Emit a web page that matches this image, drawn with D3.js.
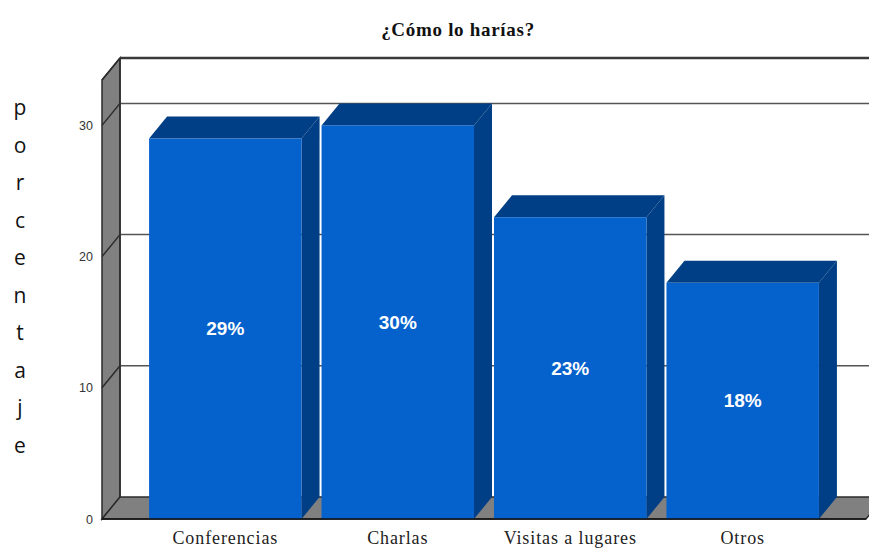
<!DOCTYPE html>
<html>
<head>
<meta charset="utf-8">
<script src="https://cdn.jsdelivr.net/npm/d3@7/dist/d3.min.js"></script>
<style>
  html, body { margin: 0; padding: 0; background: #fff; }
  svg { display: block; }
</style>
</head>
<body>
<script>
// Survey answers: "¿Cómo lo harías?"
const categories = ["Conferencias", "Charlas", "Visitas a lugares", "Otros"];
const percentages = [29, 30, 23, 18];
const yTicks = [0, 10, 20, 30];
const yLabelText = "porcentaje";
const titleText = "¿Cómo lo harías?";

const W = 869, H = 548;
const depthX = 18, depthY = 22;           // 3D offset of the back plane
const frontLeft = 102, frontRight = 866;  // front edge of the floor
const frontBottom = 519;

const svg = d3.select("body").append("svg")
  .attr("width", W).attr("height", H);

const x = d3.scaleBand()
  .domain(categories)
  .range([frontLeft, frontRight])
  .paddingInner(0.116)
  .paddingOuter(0.273);

const y = d3.scaleLinear()
  .domain([0, 33.46])
  .range([frontBottom, frontBottom - 33.46 * 13.12]);

const yTop = y.domain()[1];
const lineCol = "#2b2b2b";
const wallGray = "#808080";

// Back wall
const backLeft = frontLeft + depthX;
svg.append("rect")
  .attr("x", backLeft).attr("y", y(yTop) - depthY)
  .attr("width", W - backLeft).attr("height", y(0) - y(yTop))
  .attr("fill", "#fff");

// Left side wall
svg.append("path")
  .attr("d", d3.line()([
    [frontLeft, y(yTop)], [backLeft, y(yTop) - depthY],
    [backLeft, y(0) - depthY], [frontLeft, y(0)]
  ]) + "Z")
  .attr("fill", wallGray).attr("stroke", lineCol).attr("stroke-width", 1.5);

// Floor
svg.append("path")
  .attr("d", d3.line()([
    [frontLeft, y(0)], [backLeft, y(0) - depthY],
    [frontRight + depthX, y(0) - depthY], [frontRight, y(0)]
  ]) + "Z")
  .attr("fill", wallGray).attr("stroke", lineCol).attr("stroke-width", 1.5);

// Gridlines on back wall and side wall, plus the top edge
const gridVals = yTicks.filter(v => v > 0).concat([yTop]);
const grid = svg.append("g");
gridVals.forEach(v => {
  grid.append("line")
    .attr("x1", backLeft).attr("x2", W)
    .attr("y1", y(v) - depthY).attr("y2", y(v) - depthY)
    .attr("stroke", v === yTop ? "#3a3a3a" : "#555").attr("stroke-width", v === yTop ? 2.5 : 1.5);
  grid.append("line")
    .attr("x1", frontLeft).attr("x2", backLeft)
    .attr("y1", y(v)).attr("y2", y(v) - depthY)
    .attr("stroke", lineCol).attr("stroke-width", 1.5);
});
// Back wall left edge
grid.append("line")
  .attr("x1", backLeft).attr("x2", backLeft)
  .attr("y1", y(yTop) - depthY).attr("y2", y(0) - depthY)
  .attr("stroke", lineCol).attr("stroke-width", 1.5);

// Bars
const frontCol = "#0562cc", darkCol = "#003f85";
const bars = svg.append("g");
categories.forEach((c, i) => {
  const v = percentages[i];
  const x0 = x(c), x1 = x(c) + x.bandwidth();
  const yt = y(v), yb = y(0);
  // right side
  bars.append("path")
    .attr("d", d3.line()([[x1, yt], [x1 + depthX, yt - depthY], [x1 + depthX, yb - depthY], [x1, yb]]) + "Z")
    .attr("fill", darkCol);
  // top
  bars.append("path")
    .attr("d", d3.line()([[x0, yt], [x0 + depthX, yt - depthY], [x1 + depthX, yt - depthY], [x1, yt]]) + "Z")
    .attr("fill", darkCol);
  // front
  bars.append("rect")
    .attr("x", x0).attr("y", yt)
    .attr("width", x.bandwidth()).attr("height", yb - yt)
    .attr("fill", frontCol);
  // value label
  bars.append("text")
    .attr("x", (x0 + x1) / 2).attr("y", (yt + yb) / 2)
    .attr("text-anchor", "middle").attr("dominant-baseline", "central")
    .attr("font-family", "'Liberation Sans', Arial, sans-serif")
    .attr("font-size", 19).attr("font-weight", "bold")
    .attr("fill", "#fff")
    .text(v + "%");
});

// Front bottom edge
svg.append("line")
  .attr("x1", frontLeft).attr("x2", frontRight)
  .attr("y1", y(0)).attr("y2", y(0))
  .attr("stroke", "#111").attr("stroke-width", 1.5);

// Y axis tick labels
const yAxis = d3.axisLeft(y).tickValues(yTicks).tickSize(0).tickPadding(0);
const gy = svg.append("g").attr("transform", `translate(93,0)`).call(yAxis);
gy.select(".domain").remove();
gy.selectAll("text")
  .attr("font-family", "'Liberation Sans', Arial, sans-serif")
  .attr("font-size", 12.5).attr("fill", "#333");

// X axis category labels
const xAxis = d3.axisBottom(x).tickSize(0).tickPadding(0);
const gx = svg.append("g").attr("transform", `translate(0,${y(0) + 12})`).call(xAxis);
gx.select(".domain").remove();
gx.selectAll("text")
  .attr("font-family", "'Liberation Serif', 'Times New Roman', serif")
  .attr("font-size", 18).attr("fill", "#222")
  .attr("letter-spacing", "0.9px");

// Title
svg.append("text")
  .attr("x", 458).attr("y", 29)
  .attr("text-anchor", "middle").attr("dominant-baseline", "central")
  .attr("font-family", "'Liberation Serif', 'Times New Roman', serif")
  .attr("font-size", 19).attr("font-weight", "bold").attr("fill", "#111")
  .attr("letter-spacing", "0.7px")
  .text(titleText);

// Vertical y-axis title, one letter per line
const letters = yLabelText.split("");
const ly = d3.scalePoint().domain(d3.range(letters.length)).range([107, 445]);
svg.append("g").selectAll("text")
  .data(letters)
  .join("text")
  .attr("x", 20).attr("y", (d, i) => ly(i))
  .attr("text-anchor", "middle").attr("dominant-baseline", "central")
  .attr("font-family", "'Open Sans', 'Noto Sans', sans-serif")
  .attr("font-size", 21).attr("fill", "#111")
  .text(d => d);
</script>
</body>
</html>
